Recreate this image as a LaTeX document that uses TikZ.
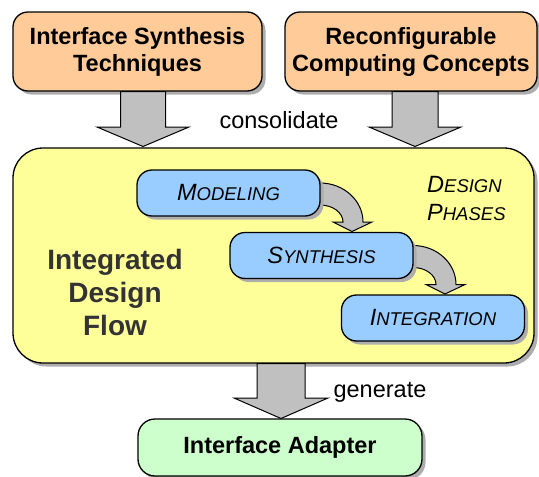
\documentclass[tikz,border=0pt]{standalone}
\usepackage{fontspec}
\setmainfont{Liberation Sans}
\usetikzlibrary{shadows}

\definecolor{peach}{HTML}{FFCC99}
\definecolor{paleyellow}{HTML}{FFFF99}
\definecolor{skyblue}{HTML}{99CCFF}
\definecolor{mint}{HTML}{CCFFCC}
\definecolor{arrowgray}{HTML}{C0C0C0}
\definecolor{flowtext}{HTML}{333333}

% italic small-caps lookalike: large initial, smaller capitals
\newcommand\phasename[2]{{\itshape\fontsize{23.5}{28}\selectfont #1\fontsize{18.5}{28}\selectfont #2}}

\tikzset{
  boxshadow/.style={drop shadow={shadow xshift=3.5pt,shadow yshift=-3.5pt,opacity=1,fill=black!32}},
  basebox/.style={draw=black,line width=1.3pt,boxshadow,align=center,inner sep=0pt,
    font=\fontsize{23.5}{27}\selectfont\bfseries},
  sourcebox/.style={basebox,fill=peach,rounded corners=15pt},
  flowbox/.style={basebox,fill=paleyellow,rounded corners=30pt},
  phasebox/.style={basebox,fill=skyblue,rounded corners=15pt,minimum height=46pt,minimum width=183pt,font=\normalfont},
  resultbox/.style={basebox,fill=mint,rounded corners=17pt},
  blockarrow/.style={draw=black,line width=1pt,fill=arrowgray,line join=miter},
  plainlabel/.style={font=\fontsize{23.5}{27}\selectfont,inner sep=0pt},
}

% wide downward block arrow: centre x, top y, head y, tip y, half shaft, half head
\newcommand\downblock[6]{%
  \draw[blockarrow] (#1-#5,#2) -- (#1+#5,#2) -- (#1+#5,#3) -- (#1+#6,#3)
    -- (#1,#4) -- (#1-#6,#3) -- (#1-#5,#3) -- cycle;}

% curved step arrow leaving a phase box on its right side
\newcommand\steparrow{%
  \draw[blockarrow] (306,183) -- (320,183) .. controls (343.7,183) and (363,200.5) .. (363,222)
    -- (372,222) -- (352,231.5) -- (333,222) -- (343,222)
    .. controls (343,212.6) and (332.7,205) .. (320,205) -- (306,205) -- cycle;}

\begin{document}
\begin{tikzpicture}[x=1pt,y=-1pt]
  \useasboundingbox (0,0) rectangle (539,477);

  % sources
  \node[sourcebox,minimum width=249pt,minimum height=79pt] (ist) at (137.5,51.5)
    {Interface Synthesis\\Techniques};
  \node[sourcebox,minimum width=252pt,minimum height=79pt] (rcc) at (411,51.5)
    {Reconfigurable\\Computing Concepts};

  % consolidate arrows
  \downblock{143}{91.5}{127}{146.5}{22.5}{46}
  \downblock{415}{91.5}{127}{146.5}{23}{46}
  \node[plainlabel] (cons) at (279,120) {consolidate};

  % integrated design flow
  \node[flowbox,minimum width=521pt,minimum height=215pt] (idf) at (273.5,255.5) {};
  \node[font=\fontsize{28}{33}\selectfont\bfseries,text=flowtext,align=center] (idft)
    at (115,292) {Integrated\\Design\\Flow};
  \node[align=left,inner sep=0pt,anchor=west,font=\fontsize{23.5}{28}\selectfont] (dp) at (427,199)
    {\phasename{D}{ESIGN}\\\phasename{P}{HASES}};

  % phases with step arrows
  \steparrow
  \begin{scope}[shift={(93,62.5)}]\steparrow\end{scope}
  \node[phasebox] (mod) at (228.5,193) {\phasename{M}{ODELING}};
  \node[phasebox] (syn) at (321.5,255.5) {\phasename{S}{YNTHESIS}};
  \node[phasebox] (int) at (433,318) {\phasename{I}{NTEGRATION}};

  % generate arrow and result
  \downblock{281}{363.5}{398}{418.5}{24}{47}
  \node[plainlabel] (gen) at (380,392) {generate};
  \node[resultbox,minimum width=284pt,minimum height=57pt] (ia) at (280,447.5)
    {Interface Adapter};
\end{tikzpicture}
\end{document}
